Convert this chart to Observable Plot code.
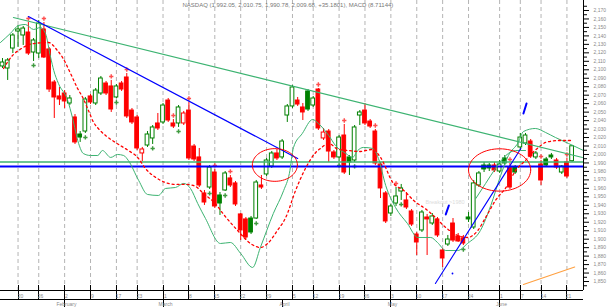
<!DOCTYPE html>
<html><head><meta charset="utf-8">
<script src="https://cdn.jsdelivr.net/npm/d3@7"></script>
<script src="https://cdn.jsdelivr.net/npm/@observablehq/plot@0.6"></script>
<style>html,body{margin:0;padding:0;background:#fff;} svg{display:block;}</style>
</head><body><div id="chart"></div>
<script>
const title = "NASDAQ (1,992.05, 2,010.75, 1,990.78, 2,009.68, +35.1801), MACD (8.71144)";

const opens = [2103.9,2101.5,2125.1,2145.2,2140.5,2144.0,2120.4,2119.2,2147.6,2124.0,
2085.0,2068.5,2072.0,2060.2,2043.7,2023.6,2027.1,2068.5,2060.2,2072.0,
2083.8,2080.3,2067.3,2083.8,2090.9,2051.9,2043.7,2001.2,2010.6,2018.9,
2036.6,2037.8,2063.7,2036.6,2036.6,2036.6,2051.9,2009.4,1996.5,1954.0,
1961.0,1978.7,1951.6,1957.5,1971.7,1965.8,1929.2,1923.3,1924.4,1924.4,
1963.4,1976.4,1985.8,2001.2,1996.5,2046.0,2056.7,2063.7,2055.5,2074.4,
2057.8,2076.7,2018.9,2027.1,2002.4,1996.5,2022.4,1996.5,1992.9,2046.0,
2051.9,2038.9,2027.1,1988.2,1954.0,1930.3,1942.1,1956.3,1945.7,1932.7,
1905.5,1910.3,1925.6,1918.5,1923.3,1886.6,1893.7,1918.5,1903.2,1900.8,
1925.6,1913.8,1963.4,1987.0,1987.0,1987.0,1979.9,1995.3,1984.6,1984.6,
2008.3,2013.0,2015.3,1996.5,1988.2,1994.1,1998.8,1992.9,1978.7,1990.6,1992.05];
const highs = [2113.3,2113.3,2142.8,2152.3,2151.1,2155.8,2136.9,2158.2,2155.8,2126.3,
2087.4,2079.1,2075.5,2069.6,2047.2,2027.1,2067.3,2070.8,2077.9,2092.1,
2086.2,2087.4,2082.6,2086.2,2095.6,2054.3,2046.0,2008.3,2027.1,2034.2,
2048.4,2060.2,2066.1,2041.3,2057.8,2050.8,2061.4,2011.8,2007.1,1957.5,
1987.0,1982.3,1955.1,1979.9,1975.2,1968.1,1930.3,1925.6,1926.8,1969.3,
1975.2,1995.3,2003.5,2005.9,2017.7,2059.0,2081.5,2067.3,2060.2,2076.7,
2068.5,2077.9,2030.7,2029.5,2004.7,2022.4,2035.4,1998.8,2034.2,2051.9,
2060.2,2041.3,2029.5,1990.6,1956.3,1941.0,1961.0,1964.6,1955.1,1935.0,
1907.9,1933.9,1929.2,1930.3,1925.6,1889.0,1904.4,1924.4,1906.7,1904.4,
1931.5,1969.3,1979.9,1990.6,1989.4,1990.6,1992.9,1998.8,1989.4,1987.0,
2024.8,2024.8,2017.7,2003.5,1992.9,1996.5,2001.2,1995.3,1987.0,1995.3,2010.75];
const lows = [2101.5,2087.4,2119.2,2126.3,2128.7,2116.9,2109.8,2113.3,2113.3,2073.2,
2042.5,2057.8,2054.3,2057.8,2011.8,2014.2,2024.8,2059.0,2057.8,2069.6,
2069.6,2049.6,2066.1,2074.4,2042.5,2035.4,2004.7,1991.7,2008.3,2011.8,
2028.3,2035.4,2037.8,2030.7,2031.9,2034.2,1992.9,1991.7,1961.0,1939.8,
1958.7,1936.2,1928.0,1956.3,1961.0,1938.6,1898.4,1899.6,1905.5,1923.3,
1958.7,1974.0,1983.5,1992.9,1994.1,2037.8,2054.3,2056.7,2040.1,2050.8,
2055.5,2028.3,2016.5,1990.6,1994.1,1991.7,1976.4,1975.2,1990.6,2034.2,
2034.2,2030.7,1987.0,1948.0,1918.5,1926.8,1938.6,1945.7,1935.0,1915.0,
1880.7,1907.9,1880.7,1916.2,1902.0,1866.6,1891.4,1896.1,1896.1,1892.5,
1919.7,1911.4,1961.0,1978.7,1979.9,1978.7,1977.6,1987.0,1958.7,1976.4,
2004.7,2010.6,1995.3,1994.1,1963.4,1984.6,1994.1,1982.3,1976.4,1971.7,1990.78];
const closes = [2108.6,2111.0,2140.5,2147.6,2148.7,2119.2,2134.6,2154.6,2114.5,2076.7,
2067.3,2064.9,2062.6,2066.1,2014.2,2020.0,2064.9,2061.4,2075.5,2089.7,
2072.0,2053.1,2080.3,2076.7,2044.9,2037.8,2007.1,2005.9,2023.6,2031.9,
2030.7,2057.8,2040.1,2033.0,2055.5,2048.4,1995.3,1994.1,1963.4,1943.3,
1984.6,1938.6,1942.1,1977.6,1963.4,1941.0,1910.3,1902.0,1907.9,1966.9,
1961.0,1992.9,2001.2,1995.3,2015.3,2056.7,2079.1,2059.0,2049.6,2053.1,
2066.1,2030.7,2025.9,2003.5,1996.5,2020.0,1978.7,1990.6,2031.9,2049.6,
2036.6,2033.0,1989.4,1959.9,1920.9,1938.6,1950.4,1959.9,1937.4,1917.3,
1896.1,1931.5,1923.3,1926.8,1904.4,1877.2,1899.6,1898.4,1897.3,1894.9,
1923.3,1965.8,1977.6,1982.3,1983.5,1981.1,1988.2,1989.4,1961.0,1978.7,
2020.0,2022.4,1997.6,2001.2,1969.3,1987.0,1996.5,1984.6,1985.8,1974.0,2009.68];

const upFractals = [5,8,21,24,33,36,41,44,61,66,72,76,98,104,109];
const downFractals = [6,16,22,29,34,40,43,49,65,68,77,89];

// moving-average (red dashed): [bar, price]
const redMA = [[0.2,2101.5],[2.1,2118.0],[3.1,2122.8],[6.0,2131.0],[8.9,2132.2],[10.6,2122.8],[11.6,2114.5],
[12.6,2102.7],[13.5,2090.9],[14.5,2077.9],[15.5,2067.3],[16.6,2051.9],[17.6,2037.8],[18.5,2030.7],
[19.9,2022.4],[21.8,2014.2],[24.3,2004.7],[26.1,1996.5],[27.6,1983.5],[29.6,1972.8],[31.5,1966.9],
[33.4,1964.6],[35.7,1964.6],[37.3,1962.2],[38.8,1954.0],[41.1,1942.1],[42.7,1929.2],[45.4,1910.3],
[47.9,1894.9],[49.8,1890.2],[51.2,1894.9],[53.1,1910.3],[54.7,1925.6],[56.6,1957.5],[58.5,1983.5],
[60.5,2002.4],[61.4,2007.1],[63.0,2013.0],[64.9,2005.9],[66.8,2004.7],[68.8,2003.5],[71.5,2005.9],
[73.0,1996.5],[75.5,1965.8],[77.5,1957.5],[79.4,1945.7],[82.1,1933.9],[83.6,1925.6],[85.6,1913.8],
[87.9,1904.4],[89.8,1902.0],[91.8,1910.3],[93.3,1925.6],[95.2,1945.7],[97.5,1963.4],[99.1,1981.1],
[101.0,1992.9],[102.4,2002.4],[103.5,2008.3],[104.9,2014.2],[107.4,2016.5],[110.1,2016.5]];

// thin green band line
const greenBand = [[-0.39,2132.2],[1.5,2142.8],[3.1,2152.3],[4.4,2153.5],[6.0,2147.6],[7.3,2149.9],[8.3,2142.8],
[9.3,2114.5],[9.9,2099.2],[10.8,2083.8],[12.6,2063.7],[13.5,2043.7],[14.7,2013.0],[15.6,2001.2],
[17.0,1998.8],[18.4,1998.8],[19.3,2004.7],[20.9,1996.5],[22.2,2000.0],[23.4,1998.8],[24.3,1992.9],
[26.3,1969.3],[28.0,1952.8],[30.1,1951.6],[31.5,1959.9],[33.4,1961.0],[35.0,1965.8],[36.3,1959.9],
[37.7,1942.1],[39.2,1924.4],[42.1,1894.9],[44.0,1896.1],[46.0,1883.1],[48.3,1866.6],[49.8,1890.2],
[52.3,1930.3],[54.3,1957.5],[55.4,1977.6],[56.2,2008.3],[57.9,2024.8],[59.9,2041.3],[61.0,2036.6],
[63.0,2022.4],[64.3,2010.6],[66.3,2001.2],[67.6,1996.5],[68.6,2004.7],[69.7,2008.3],[71.5,2007.1],
[72.6,1995.3],[74.0,1963.4],[75.9,1937.4],[78.2,1918.5],[80.2,1902.0],[82.7,1902.0],[84.0,1896.1],
[85.6,1886.6],[87.9,1886.6],[89.8,1894.9],[92.3,1910.3],[94.3,1939.8],[96.2,1975.2],[97.7,1998.8],
[99.6,2014.2],[100.6,2027.1],[102.9,2030.7],[104.9,2025.9],[106.8,2020.0],[109.3,2013.0],[112.2,2004.7]];
const greenBand2 = [[91.4,1948.0],[93.3,1965.8],[95.2,1983.5],[97.2,1998.8],[99.1,2004.7],[101.0,2004.7]];

// drawn annotations
const greenTrend = [[2.1,2161.7],[112.0,1996.5]];
const blueTrend = [[5.0,2162.9],[57.0,1995.3]];
const blueRally = [[83.6,1847.7],[100.1,2007.1]];
const orangeTrend = [[100.6,1846.5],[110.5,1867.2]];
const greenLevel = 1991.1;
const blueLevel = 1985.8;
const ellipses = [{cx:52.6, cy:1987.6, rx:4.35, ry:19.3},{cx:96.0, cy:1981.7, rx:6.0, ry:25.0}];
const blueMarks = [[[85.6,1929.2],[86.2,1939.8]],[[100.6,2048.4],[101.2,2060.2]]];
const blueDot = [[86.9,1859.5]];
const note = {x:81.7, y:1943.7, text:"Breakout >1980"};

// axis labels
const tickIdx = [3,7,12,17,22,26,31,36,41,46,51,56,60,65,70,75,80,85,90,96,100,104,109];
const tickLabels = ["20","26","2","9","17","23","1","8","15","22","29","5","12","19","26","3","10","17","24","1","7","14","21"];
const monthIdx = [12,31,54,75,96];
const monthLabels = ["February","March","April","May","June"];
const yTicks = d3.range(1850, 2171, 10);
const yMinor = d3.range(1845, 2181, 5).filter(v => v % 10 !== 0);

const xDomain = [-0.386, 112.2];
const yDomain = [1839.4, 2181.8];
const GREEN = "#008000", RED = "#ff0000", LINEG = "#3cb371";

const candles = closes.map((c, i) => ({
  i, o: opens[i], h: highs[i], l: lows[i], c,
  col: (i === 0 || c >= closes[i-1]) ? GREEN : RED,
  hollow: c >= opens[i]
}));
const ellPts = ellipses.flatMap((e, k) => d3.range(0, 73).map(j => {
  const t = j / 72 * 2 * Math.PI;
  return {k, x: e.cx + e.rx * Math.cos(t), y: e.cy + e.ry * Math.sin(t)};
}));
const blueMarkPts = blueMarks.flatMap((seg, k) => seg.map(p => ({k, x: p[0], y: p[1]})));

const W = 610, H = 307, MB = 17, MR = 27;
const chart = Plot.plot({
  width: W, height: H,
  marginLeft: 0, marginRight: MR, marginTop: 0, marginBottom: MB,
  style: {fontFamily: "'Liberation Sans', Arial, sans-serif", background: "#fff"},
  x: {domain: xDomain, axis: null},
  y: {domain: yDomain, axis: null},
  color: {type: "identity"},
  marks: [
    Plot.ruleX(tickIdx, {stroke: "#b4b4b4", strokeDasharray: "4,3"}),
    // wicks + bodies
    Plot.ruleX(candles, {x: "i", y1: "l", y2: "h", stroke: "col", strokeWidth: 1}),
    Plot.rect(candles, {
      x1: d => d.i - 0.36, x2: d => d.i + 0.36,
      y1: d => Math.min(d.o, d.c), y2: d => Math.max(d.o, d.c),
      fill: d => d.hollow ? "#ffffff" : d.col, stroke: "col", strokeWidth: 1
    }),
    // fractals
    Plot.dot(upFractals, {x: i => i, y: i => highs[i], dy: -4, r: 1.8, symbol: "cross", fill: "#ff3030", fillOpacity: 0.85}),
    Plot.dot(downFractals, {x: i => i, y: i => lows[i], dy: 4, r: 1.8, symbol: "cross", fill: "#1e8a1e", fillOpacity: 0.85}),
    // level lines
    Plot.ruleY([greenLevel], {stroke: LINEG, strokeWidth: 1.6}),
    Plot.ruleY([blueLevel], {stroke: "#0000ff", strokeWidth: 1.8}),
    // indicator lines
    Plot.line(greenBand, {x: d => d[0], y: d => d[1], stroke: LINEG, strokeWidth: 1, curve: "monotone-x"}),
    Plot.line(greenBand2, {x: d => d[0], y: d => d[1], stroke: LINEG, strokeWidth: 1, curve: "monotone-x"}),
    Plot.line(redMA, {x: d => d[0], y: d => d[1], stroke: RED, strokeWidth: 1.3, strokeDasharray: "2,3", curve: "monotone-x"}),
    // trendlines
    Plot.line(greenTrend, {x: d => d[0], y: d => d[1], stroke: LINEG, strokeWidth: 1.1}),
    Plot.line(blueTrend, {x: d => d[0], y: d => d[1], stroke: "#0000ff", strokeWidth: 1.2}),
    Plot.line(blueRally, {x: d => d[0], y: d => d[1], stroke: "#0000ff", strokeWidth: 1.1}),
    Plot.line(orangeTrend, {x: d => d[0], y: d => d[1], stroke: "#ffa040", strokeWidth: 1.1}),
    Plot.line(ellPts, {x: "x", y: "y", z: "k", stroke: RED, strokeWidth: 1}),
    Plot.line(blueMarkPts, {x: "x", y: "y", z: "k", stroke: "#0000ff", strokeWidth: 2}),
    Plot.dot(blueDot, {x: d => d[0], y: d => d[1], r: 0.9, fill: "#0000ff"}),
    Plot.text([note], {x: "x", y: "y", text: "text", textAnchor: "start", fontSize: 5.5, fill: "#dcdcdc"}),
    // title
    Plot.text([title], {frameAnchor: "top-left", dx: 182, dy: 2, textAnchor: "start", lineAnchor: "top", fontSize: 6, fill: "#777"}),
    // right axis
    Plot.ruleX([xDomain[1]], {stroke: "#000", strokeWidth: 1}),
    Plot.axisY(yMinor, {anchor: "right", tickSize: 3, tickFormat: () => "", stroke: "#000"}),
    Plot.axisY(yTicks, {anchor: "right", tickSize: 5, tickPadding: 5, tickFormat: d3.format(","), fontSize: 5, stroke: "#000", fill: "#8a8a8a"})
  ]
});
document.getElementById("chart").appendChild(chart);

// bottom date axis drawn with the plot's own x scale
const xs = chart.scale("x");
const svg = d3.select(chart);
const g = svg.append("g").attr("font-family", "'Liberation Sans', Arial, sans-serif");
const yAxis = H - MB;            // 290
const yRow = yAxis + 9.5;        // second rule
const xEnd = W - MR;
g.append("line").attr("x1", 0).attr("x2", xEnd).attr("y1", yAxis + 0.5).attr("y2", yAxis + 0.5).attr("stroke", "#000");
g.append("line").attr("x1", 0).attr("x2", xEnd).attr("y1", yRow).attr("y2", yRow).attr("stroke", "#000");
tickIdx.forEach((t, k) => {
  const x = Math.round(xs.apply(t)) + 0.5;
  g.append("line").attr("x1", x).attr("x2", x).attr("y1", yAxis - 5).attr("y2", yRow).attr("stroke", "#000");
  g.append("text").attr("x", x + 2).attr("y", yRow - 2).attr("font-size", 5).attr("fill", "#8a8a8a").text(tickLabels[k]);
});
monthIdx.forEach((t, k) => {
  const x = Math.round(xs.apply(t)) + 0.5;
  g.append("line").attr("x1", x).attr("x2", x).attr("y1", yRow).attr("y2", H).attr("stroke", "#000");
  g.append("text").attr("x", x + 2).attr("y", H - 1.5).attr("font-size", 5).attr("fill", "#8a8a8a").text(monthLabels[k]);
});
</script>
</body></html>
